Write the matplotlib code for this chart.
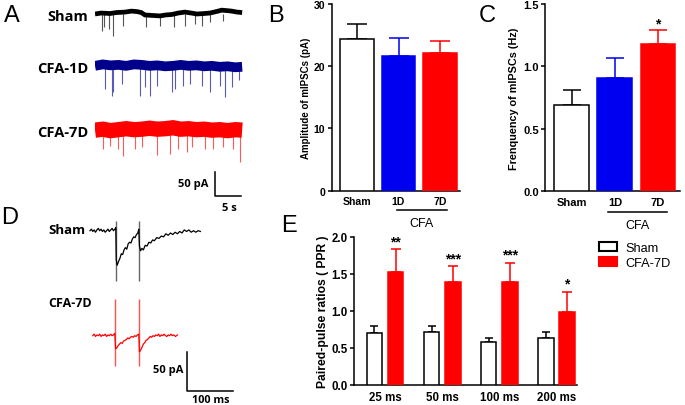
import matplotlib
matplotlib.use('Agg')
import matplotlib.pyplot as plt
import matplotlib.patches as mpatches
import numpy as np

plt.rcParams['font.family'] = ['Liberation Sans', 'DejaVu Sans']

# ---- panel A: spontaneous mIPSC traces (time s, current pA) ----
sham_base_t = [0, 1.2, 2.9, 4.1, 5.8, 7.0, 8.1, 8.9, 9.6, 11.0, 12.5, 13.6, 14.8, 16.0,
               17.3, 18.5, 19.6, 21.0, 22.1, 23.3, 24.4, 25.4, 26.3, 27.3, 28.3]
sham_base_v = [0, 2, 1, 3, 4, 6, 5, 3, -2, -3, -4, -2, -1, 2, 4, 2, 0, 1, 2, 5, 8, 7, 6, 4, 3]
sham_ev_t = [1.3, 1.7, 2.6, 3.5, 5.4, 9.9, 12.5, 15.1, 17.3, 19.2, 20.5, 22.1, 24.7]
sham_ev_d = [35, 27, 31, 45, 24, 27, 24, 27, 24, 21, 24, 17, 15]

d1_base_t = [0, 1.5, 3, 4.5, 6, 7.5, 9, 10.5, 12, 13.5, 15, 16.5, 18, 19.5, 21, 22.5, 24,
             25.5, 27, 28.3]
d1_base_v = [0, 3, 1, 2, 0, 3, 2, 0, 1, -1, 0, 2, 0, 1, -1, 0, -2, -1, -3, -2]
d1_ev_t = [1.9, 3.2, 3.5, 5.1, 8.7, 9.6, 10.6, 11.9, 14.8, 15.4, 17.0, 18.3, 20.5, 22.1, 24.0, 25.0, 26.3, 27.7]
d1_ev_d = [48, 62, 55, 37, 62, 44, 62, 41, 55, 48, 41, 37, 41, 55, 41, 65, 45, 30]

d7_base_t = [0, 1.5, 3, 4.5, 6, 7.5, 9, 10.5, 12, 13.5, 15, 16.5, 18, 19.5, 21, 22.5, 24,
             25.5, 27, 28.3]
d7_base_v = [0, 2, -1, 1, 3, 1, 2, 4, 2, 3, 5, 2, 3, 1, 2, 0, 1, -1, 1, 0]
d7_ev_t = [1.6, 2.9, 4.5, 5.4, 7.7, 9.0, 11.9, 14.4, 16.0, 17.6, 18.6, 21.1, 22.7, 24.7, 26.6, 27.9]
d7_ev_d = [39, 32, 39, 53, 39, 35, 52, 49, 39, 45, 35, 39, 39, 35, 39, 66]

# ---- panel D: evoked paired-pulse traces (time ms, current pA) ----
ppr_sham_t = [0, 3, 6, 9, 12, 15, 18, 21, 24, 27, 30, 33, 36, 39, 42, 45, 48, 51, 54, 56,
              57, 59, 62, 65, 68, 71, 74, 77, 80, 83, 86, 89, 92, 95, 98, 101, 104, 106,
              107.5, 110, 113, 116, 120, 124, 128, 132, 136, 140, 145, 150, 155, 160, 165,
              170, 175, 180, 185, 190, 195, 200, 205, 210, 215, 220, 225, 230, 235, 240]
ppr_sham_v = [0, 2, -1, 1, -2, 1, 3, 0, 2, -1, 1, -2, 0, 2, -1, 1, 3, 0, 2, 4,
              -38, -45, -40, -36, -30, -31, -25, -22, -24, -17, -15, -16, -11, -8, -9, -5, -3, 2,
              -20, -26, -23, -25, -19, -20, -15, -16, -12, -13, -9, -10, -7, -8, -4,
              -6, -3, -5, -2, -4, -1, -3, 1, -1, 1, -2, 0, -2, 0, -1]
ppr_cfa_t = [6, 9, 12, 15, 18, 21, 24, 27, 30, 33, 36, 39, 42, 45, 48, 51, 54,
             55.5, 58, 61, 64, 67, 70, 73, 76, 79, 82, 85, 88, 91, 94, 97, 100, 103, 106,
             107.5, 110, 113, 116, 119, 122, 125, 128, 131, 134, 137, 140, 143, 146, 149,
             152, 155, 158, 161, 164, 167, 170, 173, 176, 179, 182, 186, 190]
ppr_cfa_v = [0, 2, -1, 1, 0, 2, -1, 1, 0, 2, -1, 1, 0, 2, 0, 1, 3,
             -17, -16, -13, -11, -9, -10, -7, -6, -5, -3, -4, -2, -1, -2, 0, -1, 1, 2,
             -21, -19, -15, -11, -9, -6, -5, -3, -1, -2, 0, -1, 1, 0, 2,
             -1, 1, 0, 2, 0, -1, 1, 0, 2, 0, 1, -1, 1]
stim_t_sham = [56, 107]
stim_t_cfa = [55, 107]
stim_sham_range = (-65, 12)
stim_cfa_range = (-39, 48)

# ---- panels B, C ----
groups = ['Sham', '1D', '7D']
amp_mean = [24.3, 21.7, 22.2]
amp_sem = [2.5, 2.8, 1.9]
freq_mean = [0.69, 0.91, 1.18]
freq_sem = [0.125, 0.16, 0.115]
freq_stars = ['', '', '*']

# ---- panel E ----
intervals = ['25 ms', '50 ms', '100 ms', '200 ms']
ppr_sham = [0.70, 0.72, 0.58, 0.63]
ppr_sham_sem = [0.09, 0.08, 0.06, 0.08]
ppr_cfa = [1.52, 1.39, 1.39, 0.98]
ppr_cfa_sem = [0.31, 0.21, 0.26, 0.28]
ppr_stars = ['**', '***', '***', '*']

BLUE = '#0000f0'
RED = '#ff0000'
W, H = 685, 406

fig = plt.figure(figsize=(6.85, 4.06), dpi=100)


def px_axes(x0, y0, x1, y1):
    return fig.add_axes([x0 / W, 1 - y1 / H, (x1 - x0) / W, (y1 - y0) / H])


def fig_text(x, y, s, **kw):
    fig.text(x / W, 1 - y / H, s, **kw)


# panel letters
for lab, x, y in [('A', 12, 16), ('B', 276, 16), ('C', 487, 16), ('D', 10, 218), ('E', 289, 226)]:
    fig_text(x, y, lab, fontsize=17, ha='center', va='center')

trace_font = dict(family=['Open Sans', 'DejaVu Sans'], fontweight='bold')

# ---------------- A ----------------
axA = px_axes(95, 0, 245, 215)
axA.set_xlim(0, 150 / 5.2)
axA.set_ylim(31.25 - 215 / 0.48, 31.25)
axA.axis('off')

traces = [
    (sham_base_t, sham_base_v, sham_ev_t, sham_ev_d, 0, 'black', '#555555', 3.4, 'Sham'),
    (d1_base_t, d1_base_v, d1_ev_t, d1_ev_d, -108, '#00008b', '#5a5ab4', 7.0, 'CFA-1D'),
    (d7_base_t, d7_base_v, d7_ev_t, d7_ev_d, -242, RED, '#ff5a5a', 11.0, 'CFA-7D'),
]
for bt, bv, et, ed, off, col, scol, lw, name in traces:
    axA.vlines(et, off, off - np.array(ed), color=scol, lw=0.8)
    axA.plot(bt, np.array(bv) + off, color=col, lw=lw, solid_capstyle='butt',
             solid_joinstyle='miter')
    axA.text(-1.3, off - 4, name, ha='right', va='center', fontsize=10.5, **trace_font)

# scale bar 50 pA / 5 s
sb_t, sb_v = 23.1, -378.5
axA.plot([sb_t, sb_t, sb_t + 5], [sb_v + 50, sb_v, sb_v], color='black', lw=1.1)
axA.text(sb_t - 1.3, sb_v + 25, '50 pA', ha='right', va='center', fontsize=8, **trace_font)
axA.text(sb_t + 2.8, sb_v - 24, '5 s', ha='center', va='center', fontsize=8, **trace_font)

# ---------------- D ----------------
axD = px_axes(85, 210, 245, 406)
axD.set_xlim(-10.9, 337)
axD.set_ylim(-226.6, 28.2)
axD.axis('off')
cfa_off = -136.5
axD.vlines(stim_t_sham, stim_sham_range[0], stim_sham_range[1], color='#666666', lw=1.0)
axD.plot(ppr_sham_t, ppr_sham_v, color='black', lw=0.9)
axD.vlines(stim_t_cfa, cfa_off + stim_cfa_range[0], cfa_off + stim_cfa_range[1], color='#ff5050', lw=1.0)
axD.plot(ppr_cfa_t, np.array(ppr_cfa_v) + cfa_off, color=RED, lw=0.9)
axD.text(-91, 2, 'Sham', ha='left', va='center', fontsize=9.5, **trace_font)
axD.text(-91, -94, 'CFA-7D', ha='left', va='center', fontsize=9, **trace_font)
sd_t, sd_v = 211.5, -208
axD.plot([sd_t, sd_t, sd_t + 100], [sd_v + 50, sd_v, sd_v], color='black', lw=1.1)
axD.text(sd_t - 8, sd_v + 28, '50 pA', ha='right', va='center', fontsize=8, **trace_font)
axD.text(sd_t + 50, sd_v - 11, '100 ms', ha='center', va='center', fontsize=7.8, **trace_font)


def style_axes(ax, fs):
    for s in ['top', 'right']:
        ax.spines[s].set_visible(False)
    for s in ['left', 'bottom']:
        ax.spines[s].set_linewidth(1.1)
    ax.tick_params(axis='y', direction='out', length=3, width=1.1, pad=1.5, labelsize=fs)
    ax.tick_params(axis='x', length=0, pad=4, labelsize=fs)
    for t in ax.get_xticklabels() + ax.get_yticklabels():
        t.set_fontweight('bold')


def group_bars(ax, mean, sem, cap, fs, stars=None, star_off=0.0):
    x = np.arange(len(mean))
    fills = ['white', BLUE, RED]
    edges = ['black', BLUE, RED]
    ax.bar(x, mean, 0.81, color=fills, edgecolor=edges, linewidth=1.1, zorder=3)
    for i in range(len(mean)):
        ax.errorbar(x[i], mean[i], yerr=[[0], [sem[i]]], fmt='none', ecolor=edges[i],
                    elinewidth=1.1, capsize=cap, capthick=1.1, zorder=2)
        if stars and stars[i]:
            ax.text(x[i], mean[i] + sem[i] + star_off, stars[i], ha='center', va='baseline',
                    fontsize=10, fontweight='bold')
    ax.set_xticks(x)
    ax.set_xticklabels(groups)
    style_axes(ax, fs)


# ---------------- B ----------------
axB = px_axes(331.7, 5, 460, 191.7)
axB.set_xlim(-0.617, 2.487)
axB.set_ylim(0, 30)
axB.set_yticks([0, 10, 20, 30])
group_bars(axB, amp_mean, amp_sem, 7.5, 7.6)
axB.set_ylabel('Amplitude of mIPSCs (pA)', fontsize=7, fontweight='bold', labelpad=2)
tB = axB.get_xaxis_transform()
axB.plot([0.956, 2.167], [-0.103, -0.103], color='black', lw=1.1, transform=tB, clip_on=False)
axB.text(1.56, -0.175, 'CFA', ha='center', va='center', fontsize=9, transform=tB)

# ---------------- C ----------------
axC = px_axes(545, 5, 680, 192.3)
axC.set_xlim(-0.622, 2.51)
axC.set_ylim(0, 1.5)
axC.set_yticks([0, 0.5, 1.0, 1.5])
axC.set_yticklabels(['0.0', '0.5', '1.0', '1.5'])
group_bars(axC, freq_mean, freq_sem, 6.6, 8, stars=freq_stars, star_off=0.015)
axC.set_ylabel('Frenquency of mIPSCs (Hz)', fontsize=7.8, fontweight='bold', labelpad=3)
tC = axC.get_xaxis_transform()
axC.plot([0.833, 2.2], [-0.109, -0.109], color='black', lw=1.1, transform=tC, clip_on=False)
axC.text(1.52, -0.178, 'CFA', ha='center', va='center', fontsize=9, transform=tC)

# ---------------- E ----------------
axE = px_axes(354, 237.7, 576.7, 386)
axE.set_xlim(-0.543, 3.356)
axE.set_ylim(0, 2)
xe = np.arange(len(intervals))
bw, dx = 0.275, 0.186
axE.bar(xe - dx, ppr_sham, bw, color='white', edgecolor='black', linewidth=1.1, zorder=3)
axE.bar(xe + dx, ppr_cfa, bw, color=RED, edgecolor=RED, linewidth=1.1, zorder=3)
axE.errorbar(xe - dx, ppr_sham, yerr=[np.zeros(4), ppr_sham_sem], fmt='none', ecolor='black',
             elinewidth=1.1, capsize=3, capthick=1.1, zorder=2)
axE.errorbar(xe + dx, ppr_cfa, yerr=[np.zeros(4), ppr_cfa_sem], fmt='none', ecolor=RED,
             elinewidth=1.1, capsize=3.4, capthick=1.1, zorder=2)
for i, s in enumerate(ppr_stars):
    axE.text(xe[i] + dx, ppr_cfa[i] + ppr_cfa_sem[i] + 0.05, s, ha='center', va='baseline',
             fontsize=10, fontweight='bold')
axE.set_xticks(xe)
axE.set_xticklabels(intervals)
axE.set_yticks([0, 0.5, 1.0, 1.5, 2.0])
axE.set_yticklabels(['0.0', '0.5', '1.0', '1.5', '2.0'])
style_axes(axE, 8.3)
axE.set_ylabel('Paired-pulse ratios ( PPR )', fontsize=8.7, fontweight='bold', labelpad=1.5)

handles = [mpatches.Patch(facecolor='white', edgecolor='black', linewidth=1.5),
           mpatches.Patch(facecolor=RED, edgecolor=RED, linewidth=1.5)]
fig.legend(handles, ['Sham', 'CFA-7D'], loc='upper left', bbox_to_anchor=(599 / W, 1 - 243 / H),
           frameon=False, fontsize=9.2, borderpad=0, handlelength=1.43, handleheight=0.7,
           handletextpad=0.65, labelspacing=0.25, borderaxespad=0)

fig.savefig('out.png', dpi=100)
